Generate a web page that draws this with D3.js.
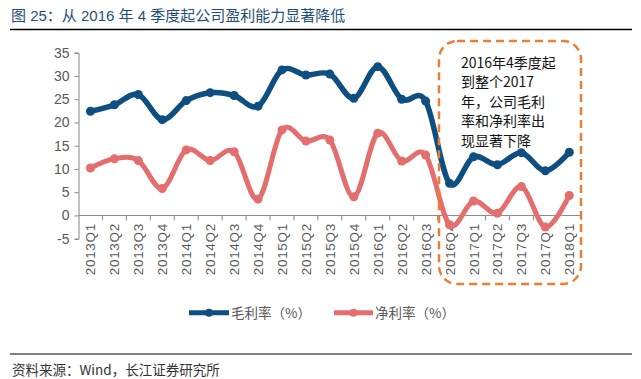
<!DOCTYPE html>
<html><head><meta charset="utf-8">
<script src="https://cdn.jsdelivr.net/npm/d3@7/dist/d3.min.js"></script>
<style>body{margin:0;background:#fff}svg{display:block}</style>
</head><body>
<svg id="c" width="641" height="379"></svg>
<script>
const categories = ["2013Q1","2013Q2","2013Q3","2013Q4","2014Q1","2014Q2","2014Q3","2014Q4","2015Q1","2015Q2","2015Q3","2015Q4","2016Q1","2016Q2","2016Q3","2016Q4","2017Q1","2017Q2","2017Q3","2017Q4","2018Q1"];
const grossMargin = [22.4,23.8,26.0,20.6,24.7,26.4,25.8,23.5,31.3,30.2,30.4,25.2,32.0,25.0,24.6,6.9,12.6,10.9,13.5,9.6,13.6];
const netMargin = [10.2,12.2,11.8,5.8,14.1,11.8,13.7,3.5,18.4,16.0,16.2,4.0,17.7,11.7,13.0,-2.0,3.1,0.5,6.2,-2.5,4.3];
const yTicks = [-5,0,5,10,15,20,25,30,35];
const seriesNames = ["毛利率（%）","净利率（%）"];
const titleText = "图 25：从 2016 年 4 季度起公司盈利能力显著降低";
const sourceText = "资料来源：Wind，长江证券研究所";
const noteLines = ["2016年4季度起","到整个2017","年，公司毛利","率和净利率出","现显著下降"];

const svg = d3.select("#c");
const font = "Arial, 'Liberation Sans', 'Noto Sans CJK SC', sans-serif";
const cjk = "'Noto Sans CJK SC', sans-serif";
const colors = ["#0E4E80","#E46E6E"];

// title
svg.append("text").attr("x",11).attr("y",21).attr("font-family",font).attr("font-size",15)
  .attr("fill","#1F4E79").text(titleText);
svg.append("line").attr("x1",10).attr("x2",632).attr("y1",29.5).attr("y2",29.5).attr("stroke","#000").attr("stroke-width",1.5);

const x = d3.scaleBand().domain(categories).range([78.5, 78.5+21*23.94]);
const y = d3.scaleLinear().domain([-5,35]).range([238.7,52.7]);
const cx = d => x(d)+x.bandwidth()/2;

// y axis
const yAxis = svg.append("g").attr("transform","translate(78.5,0)")
  .call(d3.axisLeft(y).tickValues(yTicks).tickFormat(d=>String(d)).tickSize(4).tickPadding(5));
yAxis.select(".domain").attr("stroke","#868686");
yAxis.selectAll(".tick line").attr("stroke","#868686");
yAxis.selectAll("text").attr("font-family",font).attr("font-size",14).attr("fill","#595959");

// x axis at zero
const xAxisG = svg.append("g").attr("transform",`translate(0,${y(0)})`);
xAxisG.append("line").attr("x1",x.range()[0]).attr("x2",x.range()[1]).attr("stroke","#868686");
xAxisG.selectAll("line.t").data(categories).enter().append("line")
  .attr("x1",(d,i)=>x.range()[0]+(i+1)*x.step()).attr("x2",(d,i)=>x.range()[0]+(i+1)*x.step())
  .attr("y1",0).attr("y2",5).attr("stroke","#868686");
svg.append("g").selectAll("text").data(categories).enter().append("text")
  .attr("transform",d=>`translate(${cx(d)+5},223) rotate(-90)`)
  .attr("text-anchor","end").attr("font-family",font).attr("font-size",13.5).attr("fill","#595959")
  .attr("letter-spacing",0.7).text(d=>d);

// lines
const line = d3.line().x((d,i)=>cx(categories[i])).y(d=>y(d)).curve(d3.curveCatmullRom.alpha(0));
[grossMargin, netMargin].forEach((s,k)=>{
  svg.append("path").attr("d",line(s)).attr("fill","none").attr("stroke",colors[k])
    .attr("stroke-width",k===0?5.5:5).attr("stroke-linejoin","round");
  svg.append("g").selectAll("circle").data(s).enter().append("circle")
    .attr("cx",(d,i)=>cx(categories[i])).attr("cy",d=>y(d)).attr("r",4.5).attr("fill",colors[k]);
});

// dashed box
svg.append("rect").attr("x",439).attr("y",41).attr("width",142).attr("height",243).attr("rx",18)
  .attr("fill","none").attr("stroke","#ED7D31").attr("stroke-width",2.5).attr("stroke-dasharray","8,5");
svg.append("g").selectAll("text").data(noteLines).enter().append("text")
  .attr("x",461).attr("y",(d,i)=>68+i*19.4).attr("font-family",cjk).attr("font-size",14).attr("fill","#111")
  .text(d=>d);

// legend
const leg = [{x1:189,x2:229,tx:231},{x1:334,x2:373,tx:375}];
leg.forEach((l,k)=>{
  svg.append("line").attr("x1",l.x1).attr("x2",l.x2).attr("y1",312.7).attr("y2",312.7)
    .attr("stroke",colors[k]).attr("stroke-width",5);
  svg.append("circle").attr("cx",(l.x1+l.x2)/2).attr("cy",312.7).attr("r",4).attr("fill",colors[k]);
  svg.append("text").attr("x",l.tx).attr("y",317.5).attr("font-family",cjk).attr("font-size",13.5)
    .attr("fill","#595959").text(seriesNames[k]);
});

// source
svg.append("line").attr("x1",10).attr("x2",632).attr("y1",354).attr("y2",354).attr("stroke","#000").attr("stroke-width",1);
svg.append("text").attr("x",12).attr("y",375).attr("font-family",cjk).attr("font-size",13.5).attr("fill","#333").text(sourceText);
</script>
</body></html>
